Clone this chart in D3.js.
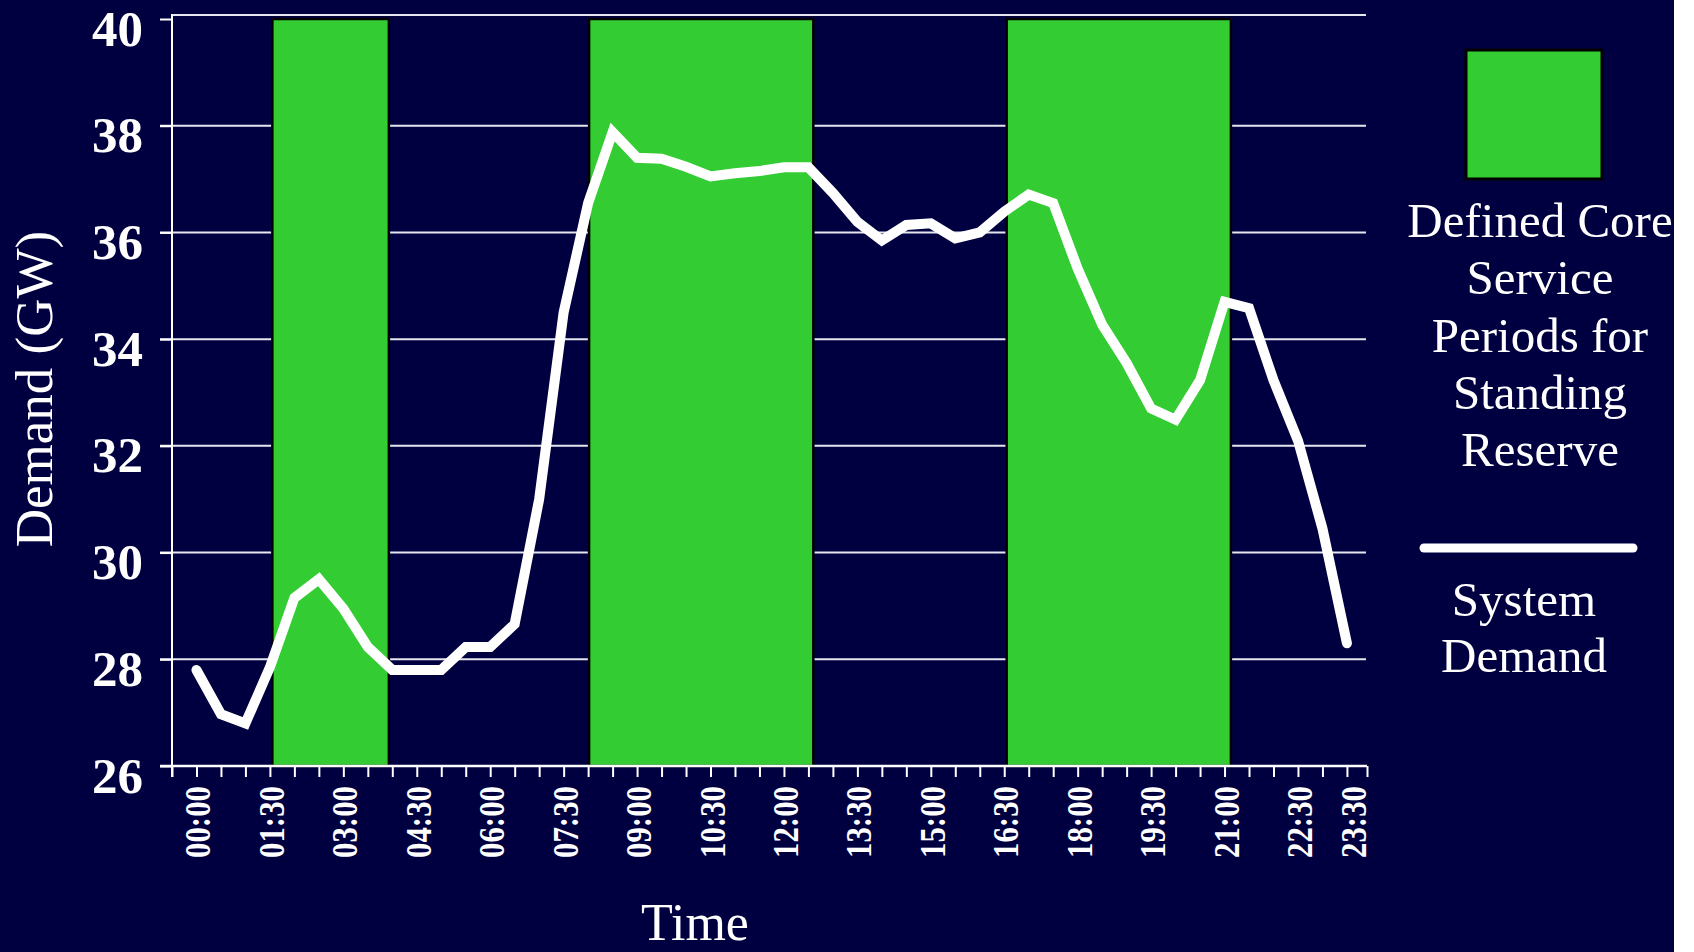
<!DOCTYPE html>
<html>
<head>
<meta charset="utf-8">
<script src="https://cdn.jsdelivr.net/npm/d3@7"></script>
<style>
body { margin: 0; background: #ffffff; }
svg { display: block; }
</style>
</head>
<body>
<script>
// half-hourly system demand, GW
var times = ["00:00","00:30","01:00","01:30","02:00","02:30","03:00","03:30","04:00","04:30","05:00","05:30",
             "06:00","06:30","07:00","07:30","08:00","08:30","09:00","09:30","10:00","10:30","11:00","11:30",
             "12:00","12:30","13:00","13:30","14:00","14:30","15:00","15:30","16:00","16:30","17:00","17:30",
             "18:00","18:30","19:00","19:30","20:00","20:30","21:00","21:30","22:00","22:30","23:00","23:30"];
var demand = [27.8, 26.97, 26.8, 27.85, 29.15, 29.5, 28.95, 28.23, 27.8, 27.8, 27.8, 28.23,
              28.23, 28.66, 31.0, 34.5, 36.55, 37.88, 37.4, 37.38, 37.23, 37.05, 37.11, 37.15,
              37.22, 37.22, 36.74, 36.2, 35.85, 36.14, 36.17, 35.89, 36.0, 36.39, 36.71, 36.55,
              35.32, 34.27, 33.55, 32.7, 32.49, 33.23, 34.7, 34.58, 33.23, 32.1, 30.45, 28.3];
var tickLabels = ["00:00","01:30","03:00","04:30","06:00","07:30","09:00","10:30","12:00",
                  "13:30","15:00","16:30","18:00","19:30","21:00","22:30","23:30"];
var yTicks = [26, 28, 30, 32, 34, 36, 38, 40];
// core service periods (hours)
var periodStart = [1.55, 8.02, 16.55];
var periodEnd = [3.93, 12.6, 21.13];

var bg = "#000040", green = "#33cc33";
var W = 1694, H = 952;

function hourOf(t) { return +t.slice(0, 2) + (+t.slice(3)) / 60; }

var svg = d3.select("body").append("svg")
    .attr("width", W)
    .attr("height", H);

svg.append("rect")
    .attr("x", 0).attr("y", 0)
    .attr("width", 1674).attr("height", H)
    .attr("fill", bg);

var x = d3.scaleLinear().domain([-0.5, 23.91]).range([172, 1367]);
var y = d3.scaleLinear().domain([26, 40]).range([766, 19]);

// gridlines
svg.selectAll(".grid")
    .data(yTicks.filter(function(d) { return d > 26 && d < 40; }))
  .enter().append("line")
    .attr("class", "grid")
    .attr("x1", 160).attr("x2", x.range()[1] - 1)
    .attr("y1", function(d) { return y(d); })
    .attr("y2", function(d) { return y(d); })
    .attr("stroke", "#e6e6ee")
    .attr("stroke-width", 2);

// top border
svg.append("line")
    .attr("x1", 171).attr("x2", x.range()[1] - 1)
    .attr("y1", y(40) - 4).attr("y2", y(40) - 4)
    .attr("stroke", "#e6e6ee")
    .attr("stroke-width", 2);

// green periods
svg.selectAll(".period")
    .data(periodStart)
  .enter().append("rect")
    .attr("class", "period")
    .attr("x", function(d) { return x(d); })
    .attr("y", y(40))
    .attr("width", function(d, i) { return x(periodEnd[i]) - x(d); })
    .attr("height", y(26) - y(40))
    .attr("fill", green)
    .attr("stroke", "#000000")
    .attr("stroke-width", 2.5);

// y axis
var yAxis = d3.axisLeft(y).tickValues(yTicks).tickSize(12).tickPadding(17);
var gy = svg.append("g")
    .attr("transform", "translate(172,0)")
    .call(yAxis);
gy.select(".domain").remove();
gy.selectAll(".tick line").attr("stroke", "#ffffff").attr("stroke-width", 2);
gy.selectAll(".tick text")
    .attr("dy", "26px")
    .attr("fill", "#ffffff")
    .style("font-family", "'Liberation Serif', 'Times New Roman', serif")
    .style("font-weight", "bold")
    .style("font-size", "51px");
gy.append("line")
    .attr("x1", 0).attr("x2", 0)
    .attr("y1", y(40) - 5).attr("y2", y(26) + 11)
    .attr("stroke", "#ffffff").attr("stroke-width", 2);

// x axis
var xTicks = d3.range(-0.5, 24, 0.5).concat([23.91]);
var xAxis = d3.axisBottom(x).tickValues(xTicks).tickSize(11).tickFormat("");
var gx = svg.append("g")
    .attr("transform", "translate(0," + y(26) + ")")
    .call(xAxis);
gx.select(".domain").remove();
gx.selectAll(".tick line").attr("stroke", "#ffffff").attr("stroke-width", 2);
gx.append("line")
    .attr("x1", 160).attr("x2", x.range()[1])
    .attr("stroke", "#ffffff").attr("stroke-width", 2.5);

svg.selectAll(".xlabel")
    .data(tickLabels)
  .enter().append("text")
    .attr("class", "xlabel")
    .attr("transform", function(d, i) {
      var px = x(hourOf(d)) + 14 + (i == tickLabels.length - 1 ? 5 : 0);
      return "translate(" + px + ",786) rotate(-90)";
    })
    .attr("text-anchor", "end")
    .attr("textLength", 72)
    .attr("lengthAdjust", "spacingAndGlyphs")
    .attr("fill", "#ffffff")
    .style("font-family", "'Liberation Serif', 'Times New Roman', serif")
    .style("font-weight", "bold")
    .style("font-size", "35px")
    .text(function(d) { return d; });

// demand line
var line = d3.line()
    .x(function(d, i) { return x(hourOf(times[i])); })
    .y(function(d) { return y(d); });

svg.append("path")
    .datum(demand)
    .attr("d", line)
    .attr("fill", "none")
    .attr("stroke", "#ffffff")
    .attr("stroke-width", 10)
    .attr("stroke-linecap", "round")
    .attr("stroke-linejoin", "miter");

// axis titles
svg.append("text")
    .attr("transform", "translate(52,389) rotate(-90)")
    .attr("text-anchor", "middle")
    .attr("fill", "#ffffff")
    .style("font-family", "'Liberation Serif', 'Times New Roman', serif")
    .style("font-size", "53px")
    .text("Demand (GW)");

svg.append("text")
    .attr("x", 695).attr("y", 940)
    .attr("text-anchor", "middle")
    .attr("fill", "#ffffff")
    .style("font-family", "'Liberation Serif', 'Times New Roman', serif")
    .style("font-size", "52px")
    .text("Time");

// legend
var legend = svg.append("g");
legend.append("rect")
    .attr("x", 1466).attr("y", 50)
    .attr("width", 136).attr("height", 129)
    .attr("fill", green)
    .attr("stroke", "#000000")
    .attr("stroke-width", 3);

var legLines = ["Defined Core", "Service", "Periods for", "Standing", "Reserve"];
legend.selectAll(".leg1")
    .data(legLines)
  .enter().append("text")
    .attr("class", "leg1")
    .attr("x", 1540)
    .attr("y", function(d, i) { return 237 + i * 57.3; })
    .attr("text-anchor", "middle")
    .attr("fill", "#ffffff")
    .style("font-family", "'Liberation Serif', 'Times New Roman', serif")
    .style("font-size", "49px")
    .text(function(d) { return d; });

legend.append("line")
    .attr("x1", 1424).attr("x2", 1633)
    .attr("y1", 548).attr("y2", 548)
    .attr("stroke", "#ffffff")
    .attr("stroke-width", 9)
    .attr("stroke-linecap", "round");

legend.selectAll(".leg2")
    .data(["System", "Demand"])
  .enter().append("text")
    .attr("class", "leg2")
    .attr("x", 1524)
    .attr("y", function(d, i) { return 616 + i * 56; })
    .attr("text-anchor", "middle")
    .attr("fill", "#ffffff")
    .style("font-family", "'Liberation Serif', 'Times New Roman', serif")
    .style("font-size", "49px")
    .text(function(d) { return d; });
</script>
</body>
</html>
